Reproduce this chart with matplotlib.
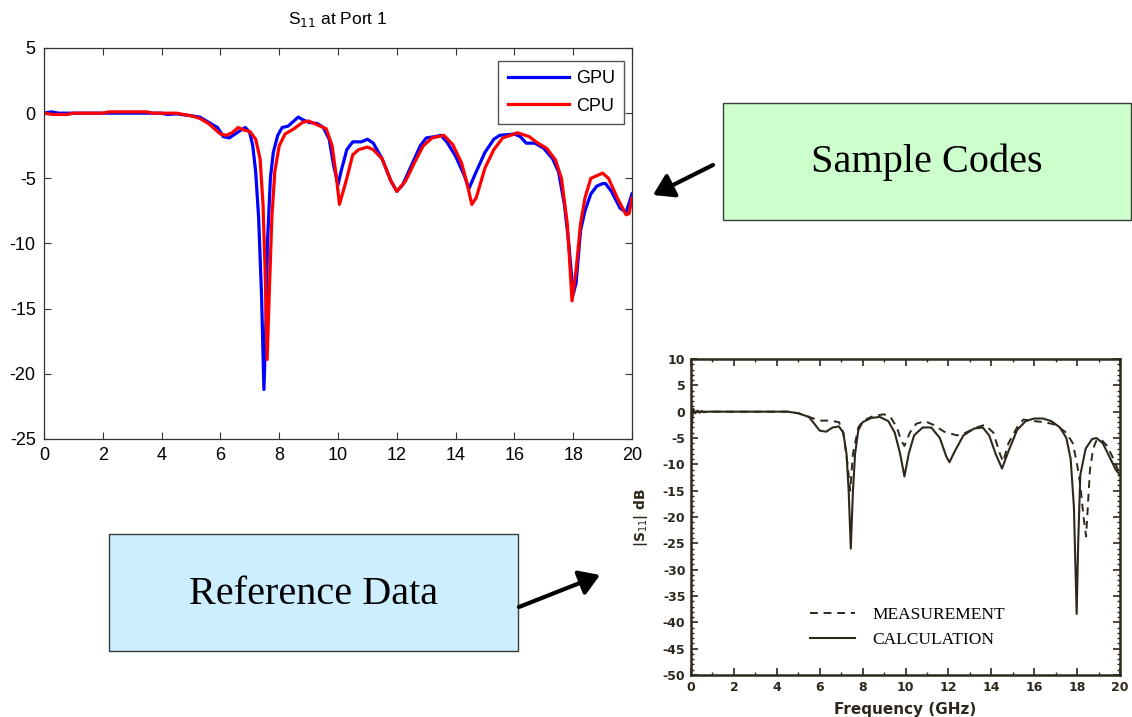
import matplotlib
matplotlib.use("Agg")
import matplotlib.pyplot as plt
import numpy as np
from matplotlib.patches import Rectangle, FancyArrowPatch
from matplotlib.ticker import MultipleLocator

plt.rcParams['axes.unicode_minus'] = False

# ---- simulated S11 (left chart) ----
gpu_f = [0, 0.25, 0.5, 1.0, 2.0, 3.0, 4.0, 4.2, 4.5, 5.0, 5.3, 5.6, 5.9, 6.1, 6.3, 6.5, 6.7,
         6.85, 7.0, 7.1, 7.2, 7.3, 7.4, 7.48, 7.55, 7.6, 7.7, 7.8, 7.95, 8.1, 8.3, 8.5, 8.65,
         8.8, 9.0, 9.3, 9.5, 9.7, 9.85, 10.0, 10.1, 10.3, 10.5, 10.8, 11.0, 11.2, 11.5, 11.8,
         12.0, 12.2, 12.5, 12.8, 13.0, 13.3, 13.5, 13.7, 14.0, 14.3, 14.45, 14.7, 15.0, 15.3,
         15.5, 16.0, 16.2, 16.4, 16.7, 17.0, 17.3, 17.5, 17.7, 17.85, 18.0, 18.1, 18.25, 18.4,
         18.6, 18.8, 19.0, 19.1, 19.3, 19.6, 19.8, 20.0]
gpu_s11 = [0, 0.1, 0, 0, 0, 0, 0, -0.1, -0.05, -0.2, -0.3, -0.7, -1.1, -1.8, -1.9, -1.6, -1.3,
           -1.1, -1.5, -2.5, -4.5, -8, -14, -21.2, -16, -10, -5, -3, -1.7, -1.1, -1.0, -0.6, -0.3,
           -0.5, -0.7, -0.8, -1.1, -2.0, -4, -5.5, -4.5, -2.8, -2.2, -2.2, -2.0, -2.3, -3.5, -5.2,
           -6.0, -5.5, -4.0, -2.5, -1.9, -1.8, -1.7, -2.2, -3.3, -4.8, -5.8, -4.5, -3.0, -2.0,
           -1.7, -1.6, -1.8, -2.3, -2.3, -2.7, -3.5, -4.5, -7, -10, -13.9, -13, -9, -7.5,
           -6.2, -5.6, -5.4, -5.4, -6.0, -7.3, -7.6, -6.2]

cpu_f = [0, 0.3, 0.8, 1.0, 2.0, 2.2, 3.5, 3.7, 4.5, 5.0, 5.3, 5.6, 6.0, 6.2, 6.4, 6.6, 6.8,
         7.0, 7.2, 7.35, 7.45, 7.52, 7.59, 7.66, 7.75, 7.85, 8.0, 8.2, 8.5, 8.8, 9.0, 9.3, 9.6,
         9.8, 9.95, 10.05, 10.3, 10.5, 10.7, 11.0, 11.2, 11.5, 11.8, 12.0, 12.3, 12.6, 12.9,
         13.2, 13.6, 13.9, 14.2, 14.4, 14.55, 14.7, 15.0, 15.3, 15.6, 16.0, 16.1, 16.5, 16.8,
         17.1, 17.4, 17.6, 17.8, 17.96, 18.1, 18.25, 18.4, 18.6, 18.8, 19.0, 19.2, 19.5, 19.8,
         19.9, 20.0]
cpu_s11 = [0, -0.1, -0.1, 0, 0, 0.1, 0.1, 0, 0, -0.2, -0.4, -0.8, -1.6, -1.7, -1.5, -1.1, -1.3,
           -1.4, -2.0, -3.5, -7, -12, -18.9, -14, -8, -4.5, -2.5, -1.6, -1.2, -0.7, -0.6, -0.9, -1.2,
           -2.5, -5, -7.0, -5, -3.2, -2.8, -2.6, -2.8, -3.5, -5.2, -6.0, -5.2, -3.8, -2.5,
           -1.9, -1.7, -2.4, -3.8, -5.5, -7.0, -6.5, -4.2, -2.8, -1.9, -1.6, -1.5, -1.8, -2.3,
           -2.7, -3.6, -5, -8.5, -14.4, -12, -8.5, -6.5, -5.0, -4.8, -4.6, -5.0, -6.5, -7.8,
           -7.7, -6.5]

# ---- reference data (right chart) ----
calc_f = [0, 0.1, 0.2, 0.3, 0.4, 0.5, 0.6, 0.8, 1.0, 2.0, 3.0, 4.0, 4.5, 5.0, 5.5, 6.0, 6.3,
          6.6, 6.9, 7.1, 7.25, 7.35, 7.45, 7.55, 7.65, 7.8, 8.0, 8.4, 8.8, 9.2, 9.5, 9.75,
          9.95, 10.15, 10.4, 10.8, 11.2, 11.6, 11.9, 12.05, 12.3, 12.7, 13.2, 13.6, 13.9, 14.2,
          14.5, 14.8, 15.2, 15.6, 16.0, 16.4, 16.8, 17.2, 17.5, 17.7, 17.85, 17.98, 18.05,
          18.15, 18.4, 18.7, 18.9, 19.2, 19.5, 19.8, 20.0]
calc_s11 = [-4, 0.5, -0.3, 0.2, -0.2, 0.1, -0.1, 0, 0, 0, 0, 0, 0, -0.3, -1.0, -3.6, -3.8,
            -3.0, -2.8, -4, -8, -15, -26, -15, -8, -3.5, -2.0, -1.2, -1.0, -1.8, -4, -8,
            -12.3, -8, -4.5, -3.0, -3.0, -5, -8.5, -9.6, -7.5, -4.5, -3.2, -3.0, -4.5, -8,
            -10.8, -7.5, -3.5, -1.8, -1.3, -1.3, -1.8, -3, -5, -9, -18, -38.4, -25,
            -12, -7, -5.2, -5.0, -6, -8.5, -11, -12]

meas_f = [0, 0.1, 0.2, 0.3, 0.5, 1.0, 2.0, 3.0, 4.0, 4.5, 5.0, 5.5, 6.0, 6.5, 6.9, 7.1, 7.3,
          7.42, 7.55, 7.8, 8.0, 8.5, 9.0, 9.3, 9.6, 9.8, 9.95, 10.2, 10.5, 10.9, 11.3, 11.8,
          12.4, 12.8, 13.3, 13.7, 14.1, 14.4, 14.55, 14.8, 15.2, 15.5, 16.0, 16.5, 17.0, 17.5,
          17.8, 18.0, 18.15, 18.3, 18.42, 18.5, 18.6, 18.75, 18.9, 19.1, 19.4, 19.7, 20.0]
meas_s11 = [-3, 0.5, -0.2, 0.1, 0, 0, 0, 0, 0, 0, -0.3, -1.0, -1.7, -1.7, -2.0, -4, -10,
            -15, -8, -3, -1.8, -0.8, -0.5, -1.0, -3, -5.5, -6.5, -4, -2.3, -1.8, -2.5, -3.8,
            -4.5, -4.0, -3.0, -2.5, -4, -8, -9.5, -6, -3.0, -1.5, -1.8, -2.0, -2.5, -4,
            -6, -10, -14, -20, -23.7, -18, -11, -7, -5.5, -5.2, -6.5, -9, -12]

W, H = 1132, 717
fig = plt.figure(figsize=(W / 100, H / 100), dpi=100)


def fx(px):
    return px / W


def fy(py):
    return 1 - py / H


# ---- left chart: sample codes ----
ax1 = fig.add_axes([fx(44), fy(439), fx(632) - fx(44), fy(48) - fy(439)])
ax1.plot(gpu_f, gpu_s11, color='#0000ff', lw=2.3, label='GPU')
ax1.plot(cpu_f, cpu_s11, color='#ff0000', lw=2.3, label='CPU')
ax1.set_xlim(0, 20)
ax1.set_ylim(-25, 5)
ax1.set_xticks(np.arange(0, 21, 2))
ax1.set_yticks(np.arange(-25, 6, 5))
ax1.tick_params(direction='in', top=True, right=True, length=5, width=0.8,
                labelsize=13, color='#333333', pad=6)
for lab in ax1.get_xticklabels() + ax1.get_yticklabels():
    lab.set_family(['Liberation Sans', 'DejaVu Sans'])
for sp in ax1.spines.values():
    sp.set_color('#333333')
    sp.set_linewidth(0.9)
ax1.set_title('S$_{11}$ at Port 1', fontsize=12.5, family=['Liberation Sans', 'DejaVu Sans'],
              pad=17)
leg = ax1.legend(loc='upper right', handlelength=3.4, handletextpad=0.4,
                 fancybox=False, edgecolor='#555555', framealpha=1, borderpad=0.5,
                 labelspacing=0.6, prop={'family': 'Liberation Sans', 'size': 13},
                 bbox_to_anchor=(1.002, 0.99))
leg.get_frame().set_linewidth(1.0)

# ---- right chart: reference data ----
ink = '#2e271c'
ax2 = fig.add_axes([fx(691), fy(675), fx(1120) - fx(691), fy(359) - fy(675)])
ax2.plot(meas_f, meas_s11, color=ink, lw=1.4, ls=(0, (4, 3)), label='MEASUREMENT')
ax2.plot(calc_f, calc_s11, color=ink, lw=1.5, label='CALCULATION')
ax2.set_xlim(0, 20)
ax2.set_ylim(-50, 10)
ax2.set_xticks(np.arange(0, 21, 2))
ax2.set_yticks(np.arange(-50, 11, 5))
ax2.xaxis.set_minor_locator(MultipleLocator(1))
ax2.yaxis.set_minor_locator(MultipleLocator(1))
ax2.tick_params(which='both', direction='in', top=True, right=True, color=ink)
ax2.tick_params(which='major', length=5, width=1.2, labelsize=9, pad=4, labelcolor=ink)
ax2.tick_params(which='minor', length=2.5, width=1.0)
for lab in ax2.get_xticklabels() + ax2.get_yticklabels():
    lab.set_fontweight('bold')
for sp in ax2.spines.values():
    sp.set_color(ink)
    sp.set_linewidth(1.8)
ax2.set_xlabel('Frequency (GHz)', fontsize=11, fontweight='bold', color=ink, labelpad=6)
ax2.set_ylabel('|S$_{11}$| dB', fontsize=10, fontweight='bold', color=ink, labelpad=9)
ax2.legend(loc='center left', bbox_to_anchor=(0.24, 0.15), frameon=False,
           handlelength=2.6, handletextpad=1.0, labelspacing=0.5,
           prop={'family': 'Liberation Serif', 'size': 12.5})

# ---- annotation boxes ----
fig.add_artist(Rectangle((fx(723), fy(220)), fx(1131) - fx(723), fy(103) - fy(220),
                         transform=fig.transFigure, facecolor='#ccffcc',
                         edgecolor='#3a3a3a', lw=1.0))
fig.text(fx(927), fy(162), 'Sample Codes', ha='center', va='center', fontsize=29,
         family=['Liberation Serif', 'DejaVu Serif'])
fig.add_artist(Rectangle((fx(109), fy(651)), fx(518) - fx(109), fy(534) - fy(651),
                         transform=fig.transFigure, facecolor='#cceeff',
                         edgecolor='#3a3a3a', lw=1.0))
fig.text(fx(314), fy(594), 'Reference Data', ha='center', va='center', fontsize=29,
         family=['Liberation Serif', 'DejaVu Serif'])

# ---- arrows ----
for (x0, y0), (x1, y1) in [((713, 165), (653, 195)), ((519, 607), (600, 575))]:
    fig.add_artist(FancyArrowPatch((fx(x0), fy(y0)), (fx(x1), fy(y1)),
                                   transform=fig.transFigure,
                                   arrowstyle='-|>,head_length=0.55,head_width=0.35',
                                   mutation_scale=22, lw=3, color='black',
                                   shrinkA=0, shrinkB=0))

fig.savefig('out.png', dpi=100)
